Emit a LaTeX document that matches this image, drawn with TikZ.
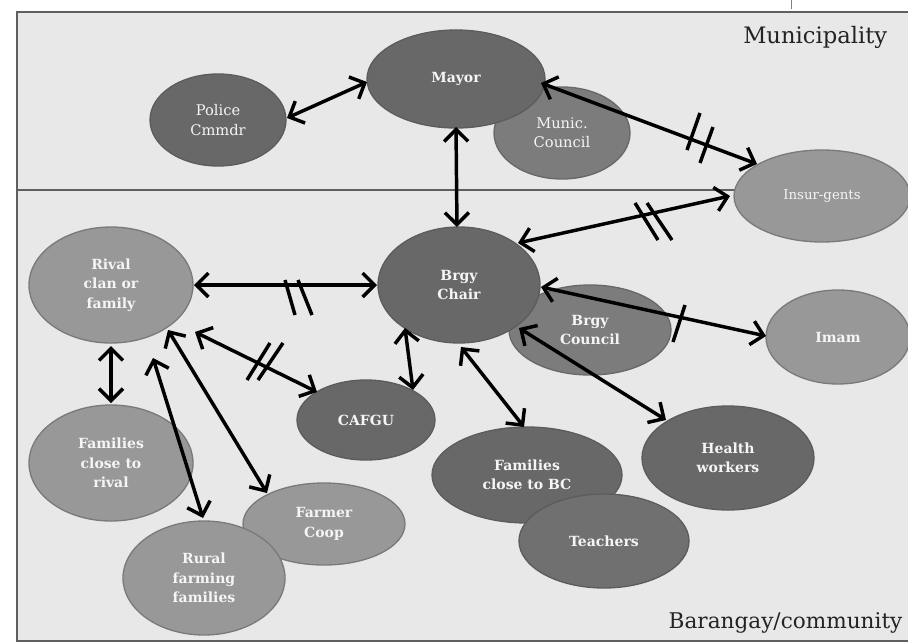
\documentclass[tikz,border=0pt]{standalone}
\usepackage{fontspec}
\setmainfont{DejaVu Serif}
\usetikzlibrary{shapes.geometric,arrows.meta}
\definecolor{bg}{RGB}{232,232,232}
\definecolor{framec}{RGB}{95,95,95}
\definecolor{dkc}{RGB}{104,104,104}
\definecolor{dkl}{RGB}{92,92,92}
\definecolor{mdc}{RGB}{124,124,124}
\definecolor{mdl}{RGB}{104,104,104}
\definecolor{tec}{RGB}{112,112,112}
\definecolor{ltc}{RGB}{152,152,152}
\definecolor{ltl}{RGB}{122,122,122}
\definecolor{txt}{RGB}{245,245,245}
\definecolor{lab}{RGB}{35,35,35}
\begin{document}
\begin{tikzpicture}[x=0.75pt,y=-0.75pt,
  nd/.style={ellipse, inner sep=0pt, text=txt, align=center,
    font=\bfseries\fontsize{10.5}{14.5}\selectfont, line width=1pt},
  thin/.style={font=\fontsize{11}{14.5}\selectfont},
  dk/.style={nd, fill=dkc, draw=dkl},
  md/.style={nd, fill=mdc, draw=mdl},
  te/.style={nd, fill=tec, draw=dkl},
  lt/.style={nd, fill=ltc, draw=ltl},
  sz/.style 2 args={minimum width=#1, minimum height=#2},
  link/.style={line width=2.6pt,
    {Straight Barb[length=9pt,width=18pt]}-{Straight Barb[length=9pt,width=18pt]}},
  barline/.style={line width=2.6pt},
  region/.style={text=lab, font=\fontsize{17}{20}\selectfont}]
\useasboundingbox (0,0) rectangle (908,643);
\clip (0,0) rectangle (908,643);
\fill[white] (0,0) rectangle (908,643);
\draw[fill=bg, draw=framec, line width=1.8pt] (17,12) rectangle (925,641);
\draw[framec, line width=1.8pt] (17,190) -- (925,190);
\draw[gray, line width=0.6pt] (791,0) -- (791,9);

% region labels
\node[region, anchor=base east] (muni) at (892,43) {Municipality};
\node[region, anchor=base west, font=\fontsize{16.2}{20}\selectfont] (bara) at (664,628) {Barangay/community};

% municipality nodes
\node[md, thin, sz={102pt}{69pt}] (munic) at (562,133) {Munic.\\Council};
\node[dk, sz={133.5pt}{73.5pt}] (mayor) at (456,79) {Mayor};
\node[dk, thin, sz={102pt}{69pt}] (police) at (218,120) {Police\\Cmmdr};
\node[lt, thin, sz={132pt}{69pt}, font=\fontsize{10}{13}\selectfont] (insurg) at (822,196) {Insur-gents};

% barangay nodes
\node[md, sz={121.5pt}{67.5pt}] (council) at (590,330) {Brgy\\Council};
\node[dk, sz={121.5pt}{87pt}] (brgy) at (459,285) {Brgy\\Chair};
\node[lt, sz={108pt}{70.5pt}] (imam) at (838,337) {Imam};
\node[lt, sz={123pt}{87pt}] (rival) at (111,285) {Rival\\clan or\\family};
\node[dk, sz={103.5pt}{60pt}] (cafgu) at (366,420) {CAFGU};
\node[lt, sz={123pt}{87pt}] (famrival) at (111,463) {Families\\close to\\rival};
\node[lt, sz={121.5pt}{61.5pt}] (coop) at (324,524) {Farmer\\Coop};
\node[lt, sz={121.5pt}{85.5pt}] (rural) at (204,578) {Rural\\farming\\families};
\node[dk, sz={142.5pt}{72pt}] (fambc) at (527,475) {Families\\close to BC};
\node[te, sz={127.5pt}{70.5pt}] (teachers) at (604,541) {Teachers};
\node[dk, sz={129pt}{78pt}] (health) at (728,458) {Health\\workers};

% connectors
\draw[link] ([shift={(69,-2)}]police.center) -- ([shift={(-89,3)}]mayor.center);
\draw[link] ([shift={(85,4)}]mayor.center) -- ([shift={(-65,-32)}]insurg.center);
\draw[link] ([shift={(0,48)}]mayor.center) -- ([shift={(-2,-58)}]brgy.center);
\draw[link] ([shift={(59,-42)}]brgy.center) -- ([shift={(-92,0)}]insurg.center);
\draw[link] ([shift={(82,2)}]brgy.center) -- ([shift={(-72,-1)}]imam.center);
\draw[link] ([shift={(83,0)}]rival.center) -- ([shift={(-82,0)}]brgy.center);
\draw[link] ([shift={(84,47)}]rival.center) -- ([shift={(-49,-28)}]cafgu.center);
\draw[link] ([shift={(-54,43)}]brgy.center) -- ([shift={(47,-30)}]cafgu.center);
\draw[link] ([shift={(0,61)}]rival.center) -- ([shift={(0,-60)}]famrival.center);
\draw[link] ([shift={(42,73)}]rival.center) -- ([shift={(-1,-60)}]rural.center);
\draw[link] ([shift={(57,45)}]rival.center) -- ([shift={(-57,-31)}]coop.center);
\draw[link] ([shift={(2,62)}]brgy.center) -- ([shift={(-3,-48)}]fambc.center);
\draw[link] ([shift={(60,43)}]brgy.center) -- ([shift={(-62,-38)}]health.center);

% conflict bars
\draw[barline] (700,113) -- (687,150);
\draw[barline] (713,127) -- (700,163);
\draw[barline] (635,203) -- (658,240);
\draw[barline] (647,203) -- (672,240);
\draw[barline] (685,305) -- (673,342);
\draw[barline] (285,280) -- (295,315);
\draw[barline] (298,280) -- (312,315);
\draw[barline] (270,343) -- (247,380);
\draw[barline] (283,343) -- (258,380);
\end{tikzpicture}
\end{document}
